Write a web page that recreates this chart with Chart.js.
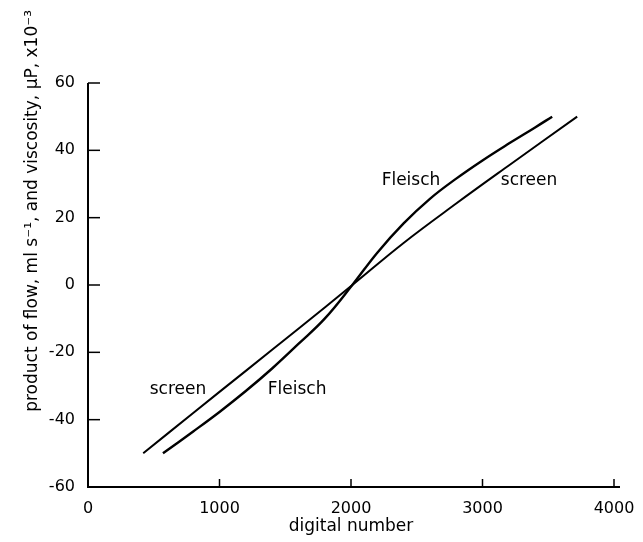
<!DOCTYPE html>
<html>
<head>
<meta charset="utf-8">
<script src="https://cdn.jsdelivr.net/npm/chart.js@4"></script>
<style>
  html, body { margin: 0; padding: 0; background: #ffffff; }
  #wrap { width: 643px; height: 542px; }
</style>
</head>
<body>
<div id="wrap"><canvas id="chart" width="643" height="542"></canvas></div>
<script>
// screen calibration (digital number -> flow x viscosity product)
const screenX = [420, 800, 1200, 1600, 2010, 2400, 2800, 3200, 3720];
const screenY = [-50, -38, -25.5, -13, 0, 12.5, 24.2, 35.5, 50];

// Fleisch calibration
const fleischX = [570, 800, 1000, 1200, 1400, 1600, 1800, 2010, 2200, 2400, 2600, 2800, 3000, 3200, 3400, 3530];
const fleischY = [-50, -43.5, -37.7, -31.5, -24.8, -17.5, -10, 0, 9.6, 18.3, 25.6, 31.6, 37, 42, 46.8, 50];

const xTicks = [0, 1000, 2000, 3000, 4000];
const yTicks = [-60, -40, -20, 0, 20, 40, 60];

// curve names written next to the lines
const curveLabels = ['Fleisch', 'screen', 'screen', 'Fleisch'];
const curveLabelX = [2456, 3354, 684, 1590];
const curveLabelY = [31, 31, -31, -31];

const FONT = '"DejaVu Sans", sans-serif';

const toPoints = (xs, ys) => xs.map((x, i) => ({ x: x, y: ys[i] }));

const decorations = {
  id: 'decorations',
  afterDraw(chart) {
    const ctx = chart.ctx;
    const xs = chart.scales.x;
    const ys = chart.scales.y;
    const area = chart.chartArea;
    ctx.save();
    ctx.strokeStyle = '#000';
    ctx.fillStyle = '#000';

    // axis lines
    ctx.lineWidth = 2;
    ctx.beginPath();
    ctx.moveTo(area.left, area.top);
    ctx.lineTo(area.left, area.bottom);
    ctx.lineTo(area.right + 6, area.bottom);
    ctx.stroke();

    // inward ticks
    ctx.lineWidth = 1.5;
    yTicks.forEach(v => {
      const py = ys.getPixelForValue(v);
      ctx.beginPath();
      ctx.moveTo(area.left, py);
      ctx.lineTo(area.left + 12, py);
      ctx.stroke();
    });
    xTicks.forEach(v => {
      if (v === 0) return;
      const px = xs.getPixelForValue(v);
      ctx.beginPath();
      ctx.moveTo(px, area.bottom);
      ctx.lineTo(px, area.bottom - 8);
      ctx.stroke();
    });

    // curve names
    ctx.font = '17px ' + FONT;
    ctx.textAlign = 'center';
    ctx.textBaseline = 'middle';
    curveLabels.forEach((t, i) => {
      ctx.fillText(t, xs.getPixelForValue(curveLabelX[i]), ys.getPixelForValue(curveLabelY[i]));
    });

    // x axis title
    ctx.fillText('digital number', (area.left + area.right) / 2, 527);

    // y axis title
    ctx.translate(33, 10);
    ctx.rotate(-Math.PI / 2);
    ctx.textAlign = 'right';
    ctx.textBaseline = 'middle';
    ctx.fillText('product of flow, ml s\u207B\u00B9, and viscosity, \u03BCP, x10\u207B\u00B3', 0, 0);
    ctx.restore();
  }
};

new Chart(document.getElementById('chart'), {
  type: 'line',
  data: {
    datasets: [
      {
        label: 'screen',
        data: toPoints(screenX, screenY),
        borderColor: '#000',
        borderWidth: 2,
        pointRadius: 0,
        tension: 0.4,
        fill: false
      },
      {
        label: 'Fleisch',
        data: toPoints(fleischX, fleischY),
        borderColor: '#000',
        borderWidth: 2.4,
        pointRadius: 0,
        tension: 0.4,
        fill: false
      }
    ]
  },
  options: {
    responsive: false,
    animation: false,
    layout: { padding: { top: 83, right: 29, left: 0, bottom: 0 } },
    scales: {
      x: {
        type: 'linear',
        min: 0,
        max: 4000,
        afterFit(scale) { scale.height = 55; },
        afterBuildTicks(scale) { scale.ticks = xTicks.map(v => ({ value: v })); },
        grid: { display: false },
        border: { display: false },
        ticks: {
          color: '#000',
          padding: 4,
          maxRotation: 0,
          callback: v => String(v),
          font: { family: FONT, size: 16 }
        }
      },
      y: {
        type: 'linear',
        min: -60,
        max: 60,
        afterFit(scale) { scale.width = 88; },
        afterBuildTicks(scale) { scale.ticks = yTicks.map(v => ({ value: v })); },
        grid: { display: false },
        border: { display: false },
        ticks: {
          color: '#000',
          padding: 5,
          callback: v => String(v),
          font: { family: FONT, size: 16 }
        }
      }
    },
    plugins: {
      legend: { display: false },
      tooltip: { enabled: false }
    }
  },
  plugins: [decorations]
});
</script>
</body>
</html>
